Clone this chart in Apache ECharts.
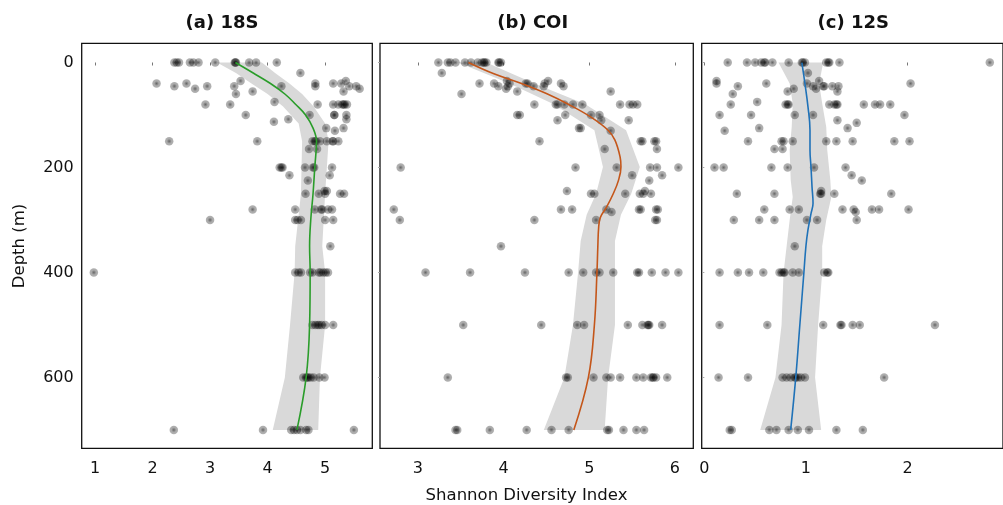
<!DOCTYPE html>
<html>
<head>
<meta charset="utf-8">
<script src="https://cdn.jsdelivr.net/npm/echarts@6/dist/echarts.min.js"></script>
<style>
html,body{margin:0;padding:0;background:#fff;}
#chart{width:1003px;height:505px;}
</style>
</head>
<body>
<div id="chart"></div>
<script>
// ---------- DATA ----------
const panelTitles = ['(a) 18S', '(b) COI', '(c) 12S'];
const depthTicks = [0, 200, 400, 600];
const xTicksA = [1, 2, 3, 4, 5];
const xTicksB = [3, 4, 5, 6];
const xTicksC = [0, 1, 2];

// observations: [Shannon index, depth (m)]
const pointsA = [
  [2.38,0],[2.42,0],[2.46,0],[2.65,0],[2.71,0],[2.80,0],[3.09,0],[3.43,0],[3.44,0],[3.45,0],[3.68,0],[3.80,0],[4.16,0],
  [4.57,20],[3.53,35],[5.36,35],
  [2.07,40],[2.59,40],[4.83,40],[5.14,40],[5.28,40],
  [2.38,45],[2.95,45],[3.42,45],[4.24,45],[4.83,45],[5.42,45],[5.54,45],
  [2.74,50],[5.60,50],[3.74,55],[5.32,55],[3.45,60],[4.12,75],
  [2.92,80],[3.35,80],[4.87,80],[5.14,80],[5.23,80],[5.30,80],[5.32,80],[5.34,80],[5.38,80],
  [3.62,100],[4.73,100],[5.16,100],[5.16,100],[5.37,100],
  [4.36,108],[5.37,108],[4.11,113],[5.02,125],[5.32,125],[5.17,130],
  [2.29,150],[3.82,150],[4.78,150],[4.82,150],[4.84,150],[4.91,150],[5.03,150],[5.13,150],[5.14,150],[5.23,150],
  [4.72,165],[4.86,165],
  [4.21,200],[4.24,200],[4.26,200],[4.65,200],[4.79,200],[4.81,200],[5.12,200],
  [4.38,215],[5.08,215],[4.70,225],[4.99,245],[5.03,245],
  [4.66,250],[4.89,250],[5.00,250],[5.26,250],[5.33,250],
  [3.74,280],[4.48,280],[4.82,280],[4.93,280],[4.95,280],[5.05,280],[5.12,280],
  [3.00,300],[4.48,300],[4.52,300],[4.58,300],[5.00,300],[5.14,300],
  [5.09,350],
  [0.98,400],[4.48,400],[4.54,400],[4.58,400],[4.74,400],[4.78,400],[4.89,400],[4.92,400],[4.97,400],[5.01,400],[5.05,400],
  [4.78,500],[4.83,500],[4.87,500],[4.90,500],[4.94,500],[5.00,500],[5.14,500],
  [4.62,600],[4.67,600],[4.69,600],[4.71,600],[4.75,600],[4.80,600],[4.90,600],[4.99,600],
  [2.37,700],[3.92,700],[4.41,700],[4.46,700],[4.51,700],[4.57,700],[4.67,700],[4.71,700],[5.50,700]
];
const pointsB = [
  [3.24,0],[3.35,0],[3.38,0],[3.44,0],[3.55,0],[3.62,0],[3.70,0],[3.75,0],[3.77,0],[3.78,0],[3.80,0],[3.94,0],[3.95,0],[3.97,0],
  [3.28,20],[4.04,35],[4.52,35],
  [3.72,40],[3.89,40],[4.07,40],[4.26,40],[4.28,40],[4.48,40],[4.67,40],
  [3.94,45],[4.05,45],[4.35,45],[4.47,45],[4.70,45],
  [4.03,50],[4.16,55],[5.25,55],[3.51,60],
  [4.36,80],[4.61,80],[4.63,80],[4.71,80],[4.81,80],[4.92,80],[5.36,80],[5.47,80],[5.51,80],[5.56,80],
  [4.16,100],[4.19,100],[4.72,100],[5.02,100],[5.12,100],
  [4.63,110],[5.14,110],[5.46,110],[4.88,125],[4.90,125],[5.25,130],
  [4.42,150],[5.60,150],[5.62,150],[5.76,150],[5.78,150],
  [5.18,165],[5.79,165],
  [2.80,200],[4.84,200],[5.32,200],[5.71,200],[5.79,200],[6.04,200],
  [5.50,215],[5.85,215],[5.70,225],[4.74,245],[5.65,245],
  [5.02,250],[5.06,250],[5.42,250],[5.59,250],[5.63,250],[5.72,250],
  [2.72,280],[4.67,280],[4.80,280],[5.20,280],[5.58,280],[5.60,280],[5.78,280],[5.80,280],[5.26,285],
  [2.79,300],[4.36,300],[5.08,300],[5.77,300],[5.79,300],
  [3.97,350],
  [3.09,400],[3.61,400],[4.25,400],[4.76,400],[4.93,400],[5.08,400],[5.12,400],[5.28,400],[5.56,400],[5.58,400],[5.73,400],[5.89,400],[6.04,400],
  [3.53,500],[4.44,500],[4.86,500],[4.94,500],[5.45,500],[5.62,500],[5.68,500],[5.69,500],[5.70,500],[5.85,500],
  [3.35,600],[4.73,600],[4.75,600],[5.05,600],[5.20,600],[5.25,600],[5.36,600],[5.55,600],[5.63,600],[5.72,600],[5.74,600],[5.75,600],[5.78,600],[5.91,600],
  [3.44,700],[3.46,700],[3.84,700],[4.27,700],[4.56,700],[4.76,700],[5.21,700],[5.23,700],[5.40,700],[5.55,700],[5.64,700]
];
const pointsC = [
  [0.23,0],[0.42,0],[0.50,0],[0.56,0],[0.59,0],[0.60,0],[0.67,0],[0.83,0],[0.96,0],[0.97,0],[0.99,0],[1.20,0],[1.22,0],[1.23,0],[1.33,0],[2.81,0],
  [1.02,20],[0.12,35],[1.13,35],
  [0.12,40],[0.61,40],[1.01,40],[2.03,40],
  [0.33,45],[1.07,45],[1.17,45],[1.18,45],[1.26,45],[1.32,45],
  [0.88,50],[1.10,50],[0.82,55],[1.31,55],[0.28,60],[0.52,75],
  [0.26,80],[0.80,80],[0.82,80],[0.83,80],[1.23,80],[1.28,80],[1.30,80],[1.31,80],[1.57,80],[1.68,80],[1.73,80],[1.83,80],
  [0.15,100],[0.46,100],[0.89,100],[1.07,100],[1.97,100],
  [1.31,110],[1.50,115],[0.54,125],[1.41,125],[0.20,130],
  [0.43,150],[0.76,150],[0.78,150],[0.87,150],[1.20,150],[1.30,150],[1.46,150],[1.87,150],[2.02,150],
  [0.69,165],[0.77,165],
  [0.10,200],[0.19,200],[0.66,200],[0.82,200],[1.08,200],[1.39,200],
  [1.45,215],[1.55,225],[1.15,245],
  [0.32,250],[0.69,250],[1.14,250],[1.15,250],[1.28,250],[1.84,250],
  [0.59,280],[0.84,280],[0.93,280],[1.36,280],[1.47,280],[1.65,280],[1.72,280],[2.01,280],[1.49,285],
  [0.29,300],[0.54,300],[0.69,300],[1.01,300],[1.11,300],[1.50,300],
  [0.89,350],
  [0.15,400],[0.33,400],[0.44,400],[0.58,400],[0.74,400],[0.76,400],[0.78,400],[0.79,400],[0.87,400],[0.93,400],[1.18,400],[1.21,400],[1.22,400],
  [0.15,500],[0.62,500],[1.17,500],[1.34,500],[1.35,500],[1.46,500],[1.53,500],[2.27,500],
  [0.14,600],[0.43,600],[0.77,600],[0.81,600],[0.85,600],[0.89,600],[0.90,600],[0.92,600],[0.95,600],[0.99,600],[1.77,600],
  [0.25,700],[0.27,700],[0.64,700],[0.71,700],[0.83,700],[0.92,700],[1.03,700],[1.30,700],[1.56,700]
];

// smoothed fits: [Shannon index, depth]
const fitA = [[3.44,0],[3.75,20],[4.05,40],[4.30,60],[4.49,80],[4.66,100],[4.79,125],[4.85,150],[4.82,200],[4.79,250],[4.75,300],[4.73,350],[4.74,400],[4.73,500],[4.67,600],[4.51,700]];
const fitB = [[3.59,0],[3.88,21],[4.21,40],[4.50,59],[4.75,79],[5.02,104],[5.22,129],[5.30,148],[5.36,180],[5.37,199],[5.34,225],[5.28,250],[5.20,276],[5.13,295],[5.11,314],[5.10,352],[5.09,400],[5.06,500],[4.99,600],[4.82,700]];
const fitC = [[0.96,0],[0.99,40],[1.02,84],[1.04,129],[1.04,167],[1.05,199],[1.06,237],[1.07,268],[1.05,288],[1.02,319],[1.00,350],[0.98,400],[0.94,500],[0.90,600],[0.85,700]];

// confidence bands: [depth, lower, upper]
const bandA = [[0,3.12,3.90],[20,3.45,4.13],[40,3.72,4.38],[60,4.00,4.60],[84,4.27,4.80],[116,4.54,5.00],[150,4.60,5.06],[250,4.58,5.00],[350,4.48,4.95],[400,4.47,5.00],[500,4.39,5.00],[600,4.30,4.91],[700,4.09,4.88]];
const bandB = [[0,3.47,3.80],[40,4.07,4.36],[79,4.58,4.95],[129,5.06,5.43],[199,5.16,5.59],[250,5.08,5.49],[290,4.97,5.37],[340,4.90,5.30],[400,4.87,5.30],[500,4.81,5.30],[600,4.71,5.22],[700,4.47,5.18]];
const bandC = [[0,0.73,1.17],[40,0.84,1.13],[78,0.87,1.16],[123,0.86,1.20],[167,0.84,1.21],[224,0.85,1.24],[256,0.87,1.25],[300,0.84,1.20],[350,0.81,1.16],[400,0.78,1.16],[500,0.76,1.12],[600,0.70,1.09],[700,0.55,1.15]];

const fitColors = ['#2a9d2a', '#c4561a', '#1f72b8'];

// ---------- CHART ----------
const FONT = 'DejaVu Sans';
const chart = echarts.init(document.getElementById('chart'), null, {renderer: 'canvas'});

const grids = [
  {left: 81.7, top: 43.3, width: 290.6, height: 405},
  {left: 380, top: 43.3, width: 313.3, height: 405},
  {left: 701.7, top: 43.3, width: 312, height: 405}
];
const xRanges = [[0.769, 5.82], [2.559, 6.214], [-0.026, 2.940]];
const xTicks = [xTicksA, xTicksB, xTicksC];
const points = [pointsA, pointsB, pointsC];
const fits = [fitA, fitB, fitC];
const bands = [bandA, bandB, bandC];
const titleX = [222, 532.7, 853.3];

const pointColor = {
  type: 'radial', x: 0.5, y: 0.5, r: 0.5,
  colorStops: [
    {offset: 0, color: 'rgba(0,0,0,0.75)'},
    {offset: 0.35, color: 'rgba(0,0,0,0.55)'},
    {offset: 0.55, color: 'rgba(0,0,0,0.42)'},
    {offset: 1, color: 'rgba(0,0,0,0.38)'}
  ]
};

const option = {
  animation: false,
  backgroundColor: '#fff',
  grid: grids.map(g => Object.assign({show: true, borderColor: '#111', borderWidth: 1.3, backgroundColor: 'transparent', containLabel: false}, g)),
  xAxis: [0,1,2].map(i => ({
    type: 'value', gridIndex: i, min: xRanges[i][0], max: xRanges[i][1],
    axisLine: {show: false},
    axisTick: {show: true, length: 3, lineStyle: {color: '#777', width: 1}, customValues: xTicks[i]},
    axisLabel: {show: true, customValues: xTicks[i], fontFamily: FONT, fontSize: 16, color: '#111', margin: 13,
      formatter: v => String(v)},
    splitLine: {show: false}
  })),
  yAxis: [0,1,2].map(i => ({
    type: 'value', gridIndex: i, inverse: true, min: -36.6, max: 735,
    axisLine: {show: false},
    axisTick: {show: i > 0, length: 2, lineStyle: {color: '#aaa'}, customValues: depthTicks},
    axisLabel: {show: i === 0, customValues: depthTicks, fontFamily: FONT, fontSize: 16, color: '#111', margin: 8},
    splitLine: {show: false}
  })),
  series: [],
  graphic: []
};

for (let i = 0; i < 3; i++) {
  const band = bands[i];
  option.series.push({
    type: 'custom', xAxisIndex: i, yAxisIndex: i, z: 1, silent: true,
    data: band,
    renderItem: function (params, api) {
      if (params.dataIndex !== 0) return null;
      const left = band.map(r => api.coord([r[1], r[0]]));
      const right = band.slice().reverse().map(r => api.coord([r[2], r[0]]));
      return {
        type: 'polygon',
        shape: {points: left.concat(right), smooth: 0},
        style: {fill: '#d9d9d9', stroke: null}
      };
    }
  });
  option.series.push({
    type: 'scatter', xAxisIndex: i, yAxisIndex: i, z: 2, silent: true,
    data: points[i], symbol: 'circle', symbolSize: 8.5,
    itemStyle: {color: pointColor, borderWidth: 0}
  });
  option.series.push({
    type: 'line', xAxisIndex: i, yAxisIndex: i, z: 3, silent: true,
    data: fits[i], showSymbol: false, smooth: 0.4,
    lineStyle: {color: fitColors[i], width: 1.6}
  });
  option.graphic.push({
    type: 'text', x: titleX[i], y: 23.5,
    style: {text: panelTitles[i], fontFamily: FONT, fontWeight: 'bold', fontSize: 18, fill: '#111',
      align: 'center', verticalAlign: 'middle'}
  });
}

option.graphic.push({
  type: 'text', x: 526.5, y: 495.5,
  style: {text: 'Shannon Diversity Index', fontFamily: FONT, fontSize: 16.5, fill: '#111', align: 'center', verticalAlign: 'middle'}
});
option.graphic.push({
  type: 'text', x: 20, y: 246, rotation: Math.PI / 2,
  style: {text: 'Depth (m)', fontFamily: FONT, fontSize: 16.5, fill: '#111', align: 'center', verticalAlign: 'middle'}
});

chart.setOption(option);
</script>
</body>
</html>
